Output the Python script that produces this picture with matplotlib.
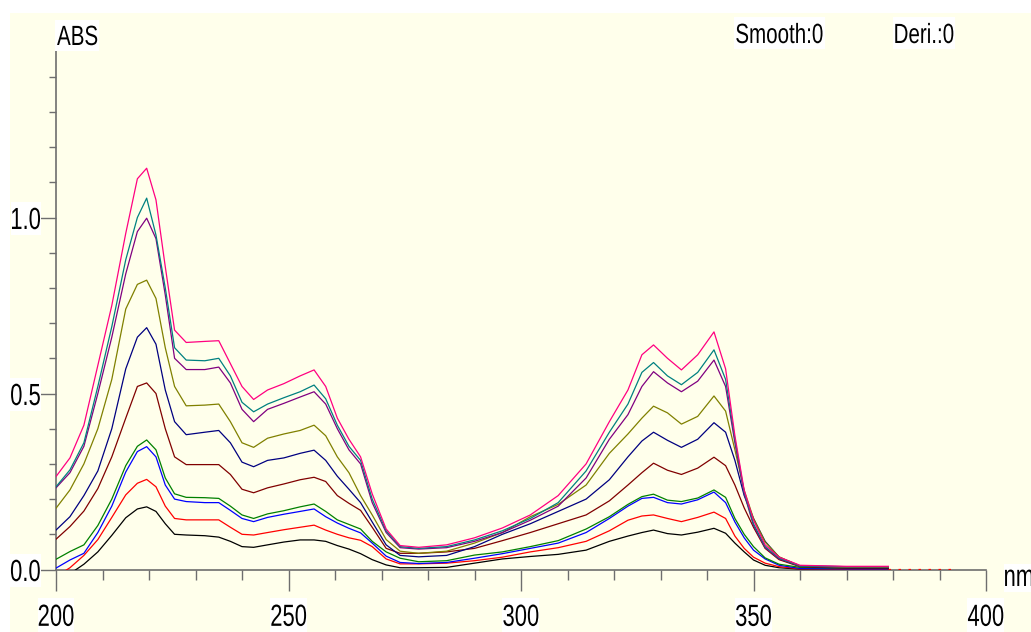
import numpy as np
import matplotlib
matplotlib.use("Agg")
import matplotlib.pyplot as plt
from matplotlib.patches import Rectangle
from matplotlib.path import Path
from matplotlib.patheffects import AbstractPathEffect
from matplotlib.ticker import FixedLocator, MultipleLocator
from matplotlib.transforms import Affine2D

# wavelength grid (nm) shared by all spectra
wl = [200, 203, 206, 209, 212, 215, 217.5, 219.5, 221.5, 223.5,
      225.5, 228, 232, 235, 237.5, 240, 242.5, 245.5, 249, 252.5,
      255.5, 258, 260.5, 263, 265.5, 268, 271, 274, 278, 284,
      290, 296, 302, 308, 314, 319, 323, 326, 328.5, 331.5,
      334.5, 338, 341.5, 344, 346, 348, 350, 352.5, 355.5, 360,
      370, 379]

# absorbance of each spectrum, lowest to highest
abs_black = [-.04, -.012, .015, .05, .097, .147, .172, .178, .165, .13,
             .10, .098, .096, .092, .08, .065, .063, .07, .078, .084,
             .084, .08, .068, .058, .045, .028, .013, .005, .005, .006,
             .018, .03, .037, .043, .055, .08, .095, .105, .112, .102,
             .098, .106, .117, .103, .075, .05, .027, .012, .005, .001,
             .001, .001]
abs_red = [-.02, .005, .04, .085, .148, .212, .245, .256, .235, .18,
           .145, .141, .141, .141, .12, .10, .098, .105, .113, .12,
           .126, .112, .10, .09, .083, .065, .03, .016, .016, .018,
           .025, .035, .05, .062, .08, .11, .14, .152, .155, .145,
           .136, .148, .163, .145, .095, .06, .035, .018, .008, .002,
           .0015, .0015]
abs_blue = [.004, .027, .046, .105, .18, .277, .335, .349, .32, .24,
            .20, .193, .19, .19, .168, .145, .136, .148, .157, .165,
            .172, .15, .132, .117, .104, .075, .038, .02, .017, .02,
            .032, .045, .06, .075, .105, .145, .18, .202, .205, .19,
            .186, .198, .22, .19, .135, .09, .055, .03, .012, .003,
            .002, .002]
abs_green = [.029, .051, .07, .125, .20, .295, .35, .368, .34, .26,
             .215, .205, .204, .202, .18, .155, .145, .158, .167, .178,
             .186, .165, .141, .128, .115, .08, .05, .032, .022, .025,
             .041, .05, .065, .082, .115, .15, .185, .207, .214, .197,
             .193, .203, .226, .205, .145, .10, .065, .033, .015, .006,
             .004, .004]
abs_maroon = [.086, .122, .166, .23, .32, .43, .52, .53, .50, .40,
              .32, .298, .298, .298, .27, .228, .218, .232, .243, .255,
              .262, .25, .21, .188, .168, .12, .06, .046, .046, .05,
              .06, .082, .105, .13, .155, .195, .24, .275, .302, .282,
              .27, .288, .319, .295, .24, .175, .12, .06, .028, .008,
              .004, .004]
abs_navy = [.112, .15, .21, .28, .40, .57, .66, .687, .64, .51,
            .42, .383, .39, .395, .36, .305, .292, .31, .317, .33,
            .339, .31, .265, .228, .19, .135, .07, .04, .036, .04,
            .065, .10, .13, .165, .20, .255, .32, .365, .39, .367,
            .347, .37, .417, .39, .31, .21, .145, .08, .035, .01,
            .005, .005]
abs_olive = [.174, .226, .30, .40, .54, .74, .81, .822, .77, .63,
             .52, .465, .467, .47, .42, .36, .347, .373, .385, .395,
             .41, .38, .32, .275, .21, .155, .085, .052, .046, .052,
             .075, .105, .15, .185, .24, .33, .385, .43, .464, .445,
             .413, .435, .493, .45, .34, .225, .145, .078, .036, .01,
             .006, .006]
abs_purple = [.232, .275, .35, .50, .66, .84, .96, .998, .94, .78,
              .60, .568, .568, .575, .53, .455, .42, .455, .472, .49,
              .505, .47, .40, .34, .30, .19, .105, .062, .058, .062,
              .08, .105, .14, .18, .26, .37, .44, .52, .562, .53,
              .505, .535, .595, .52, .36, .215, .125, .062, .03, .01,
              .008, .008]
abs_teal = [.235, .283, .36, .52, .69, .88, 1.00, 1.055, .95, .80,
            .63, .595, .593, .60, .55, .475, .448, .47, .488, .505,
            .524, .485, .41, .35, .31, .20, .11, .065, .06, .065,
            .084, .11, .145, .19, .28, .39, .47, .56, .588, .55,
            .525, .56, .624, .54, .37, .22, .13, .065, .032, .01,
            .008, .008]
abs_pink = [.264, .317, .41, .58, .75, .955, 1.11, 1.14, 1.05, .86,
            .68, .645, .648, .65, .585, .52, .483, .51, .528, .55,
            .567, .52, .43, .37, .32, .215, .115, .068, .063, .07,
            .09, .118, .155, .21, .30, .42, .51, .61, .638, .60,
            .567, .61, .675, .57, .38, .225, .14, .07, .035, .012,
            .009, .009]

# red trace continues faintly along the baseline
red_tail_wl = [379, 394]
red_tail = [.002, .002]

series = [abs_black, abs_red, abs_blue, abs_green, abs_maroon,
          abs_navy, abs_olive, abs_purple, abs_teal, abs_pink]
colors = ['#000000', '#FF0000', '#0000FF', '#008000', '#800000',
          '#000080', '#808000', '#800080', '#008080', '#FF0080']


class Squeeze(AbstractPathEffect):
    """Draw text horizontally condensed, on a white box hugging the glyphs."""

    def __init__(self, sx=0.72, anchor='left', box=(2, 6)):
        super().__init__()
        self.sx, self.anchor, self.box = sx, anchor, box

    def draw_path(self, renderer, gc, tpath, affine, rgbFace=None):
        ext = tpath.get_extents()
        x0 = {'left': ext.x0, 'center': (ext.x0 + ext.x1) / 2, 'right': ext.x1}[self.anchor]
        t = Affine2D().translate(-x0, 0).scale(self.sx, 1).translate(x0, 0) + affine
        if self.box is not None:
            bb = tpath.get_extents(t)
            px, py = self.box
            rt = Affine2D().scale(bb.width + 2 * px, bb.height + 2 * py).translate(bb.x0 - px, bb.y0 - py)
            gc0 = renderer.new_gc()
            gc0.copy_properties(gc)
            gc0.set_linewidth(0)
            renderer.draw_path(gc0, Path.unit_rectangle(), rt, (1, 1, 1, 1))
            gc0.restore()
        renderer.draw_path(gc, tpath, t, rgbFace)


W, H = 1031, 632
fnt = 'Liberation Sans'
cream = '#FFFFEB'
axcol = '#6E6E6E'

fig = plt.figure(figsize=(W / 100, H / 100), dpi=100)
fig.patch.set_facecolor('white')
fig.add_artist(Rectangle((10 / W, 0), 1, (H - 13) / H, transform=fig.transFigure,
                         facecolor=cream, edgecolor='none', zorder=-5))

ax = fig.add_axes([56 / W, (H - 569.5) / H, 930 / W, 528 / H])
ax.patch.set_visible(False)

for vals, c in zip(series, colors):
    ax.plot(wl, vals, color=c, lw=0.9)
ax.plot(red_tail_wl, red_tail, color='#FF0000', lw=0.9, ls=(0, (2, 6)))

ax.set_xlim(200, 400)
ax.set_ylim(0, 1.5)
for s in ['top', 'right']:
    ax.spines[s].set_visible(False)
for s in ['left', 'bottom']:
    ax.spines[s].set_color(axcol)
    ax.spines[s].set_linewidth(1.2)
    ax.spines[s].set_zorder(0.5)

ax.set_xticks([200, 250, 300, 350, 400])
ax.set_xticklabels(['200', '250', '300', '350', '400'])
ax.xaxis.set_minor_locator(MultipleLocator(10))
ax.set_yticks([0.0, 0.5, 1.0])
ax.set_yticklabels(['0.0', '0.5', '1.0'])
ax.yaxis.set_minor_locator(FixedLocator([0.1, 0.2, 0.3, 0.4, 0.6, 0.7, 0.8, 0.9,
                                         1.1, 1.2, 1.3, 1.4]))

ax.tick_params(axis='x', which='major', length=15, width=1, color=axcol, pad=9)
ax.tick_params(axis='x', which='minor', length=7, width=1, color=axcol)
ax.tick_params(axis='y', which='major', length=15, width=1, color=axcol, pad=7)
ax.tick_params(axis='y', which='minor', length=5, width=1, color=axcol)

for lab in ax.get_xticklabels() + ax.get_yticklabels():
    lab.set_fontfamily(fnt)
    lab.set_fontsize(22)
    lab.set_path_effects([Squeeze(0.72, 'center', box=(1, 6))])
for lab in ax.get_yticklabels():
    lab.set_horizontalalignment('center')

fig.text(57 / W, 1 - 45 / H, 'ABS', family=fnt, fontsize=20,
         ha='left', va='baseline', path_effects=[Squeeze(0.74, 'left', box=(2, 6))])
fig.text(735 / W, 1 - 43 / H, 'Smooth:0', family=fnt, fontsize=20,
         ha='left', va='baseline', path_effects=[Squeeze(0.74, 'left', box=(2, 6))])
fig.text(893 / W, 1 - 43 / H, 'Deri.:0', family=fnt, fontsize=20,
         ha='left', va='baseline', path_effects=[Squeeze(0.74, 'left', box=(2, 6))])
fig.text(1003 / W, 1 - 586 / H, 'nm', family=fnt, fontsize=22,
         ha='left', va='baseline', path_effects=[Squeeze(0.72, 'left', box=(1, 6))])

fig.savefig('out.png', dpi=100, facecolor='white')
